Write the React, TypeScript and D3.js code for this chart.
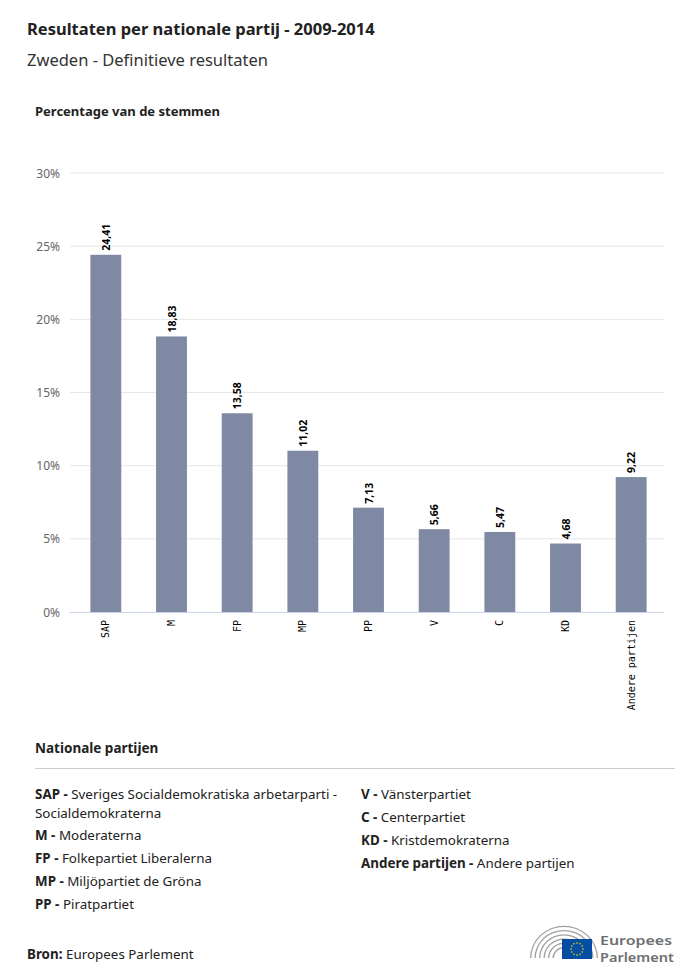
import React, { useEffect, useRef } from 'react';
import * as d3 from 'd3';

const parties = ['SAP', 'M', 'FP', 'MP', 'PP', 'V', 'C', 'KD', 'Andere partijen'];
const shares = [24.41, 18.83, 13.58, 11.02, 7.13, 5.66, 5.47, 4.68, 9.22];
const yTicks = [0, 5, 10, 15, 20, 25, 30];

const legendLeft = [
  ['SAP', 'Sveriges Socialdemokratiska arbetarparti -', 'Socialdemokraterna'],
  ['M', 'Moderaterna'],
  ['FP', 'Folkepartiet Liberalerna'],
  ['MP', 'Miljöpartiet de Gröna'],
  ['PP', 'Piratpartiet'],
];
const legendRight = [
  ['V', 'Vänsterpartiet'],
  ['C', 'Centerpartiet'],
  ['KD', 'Kristdemokraterna'],
  ['Andere partijen', 'Andere partijen'],
];

const FONT = '"Noto Sans", Lato, sans-serif';

export default function App() {
  const svgRef = useRef<SVGSVGElement>(null);

  useEffect(() => {
    if (!svgRef.current) return;
    const root = d3.select(svgRef.current);
    root.selectAll('*').remove();

    const svg = root.attr('width', 700).attr('height', 980).style('font-family', FONT);

    // Titles
    svg.append('text').attr('x', 27).attr('y', 35).attr('font-size', 16.5).attr('font-weight', 700)
      .attr('fill', '#222').text('Resultaten per nationale partij - 2009-2014');
    svg.append('text').attr('x', 27).attr('y', 66).attr('font-size', 16.5)
      .attr('fill', '#333').text('Zweden - Definitieve resultaten');
    svg.append('text').attr('x', 35).attr('y', 116).attr('font-size', 13).attr('font-weight', 700)
      .attr('fill', '#222').text('Percentage van de stemmen');

    // Scales
    const x = d3.scaleBand<string>().domain(parties).range([73, 664]).paddingInner(0.53).paddingOuter(0.265);
    const y = d3.scaleLinear().domain([0, 30]).range([612, 173]);

    // Grid
    const grid = svg.append('g');
    grid.selectAll('line').data(yTicks.slice(1)).enter().append('line')
      .attr('x1', 70).attr('x2', 664)
      .attr('y1', d => y(d)).attr('y2', d => y(d))
      .attr('stroke', '#e6e6e6').attr('stroke-width', 1);

    grid.selectAll('text').data(yTicks).enter().append('text')
      .attr('x', 60).attr('y', d => y(d) + 4.5)
      .attr('text-anchor', 'end').attr('font-size', 12).attr('fill', '#666')
      .text(d => `${d}%`);

    // Bars
    svg.append('g').selectAll('rect').data(shares).enter().append('rect')
      .attr('x', (_, i) => x(parties[i]) || 0)
      .attr('y', d => y(d))
      .attr('width', x.bandwidth())
      .attr('height', d => y(0) - y(d))
      .attr('fill', '#7f89a4');

    // Baseline
    svg.append('line').attr('x1', 70).attr('x2', 664).attr('y1', y(0) + 0.5).attr('y2', y(0) + 0.5)
      .attr('stroke', '#ccd6eb').attr('stroke-width', 1);

    // Value labels
    svg.append('g').selectAll('text').data(shares).enter().append('text')
      .attr('transform', (d, i) => `translate(${(x(parties[i]) || 0) + x.bandwidth() / 2 + 4},${y(d) - 4}) rotate(-90)`)
      .attr('font-size', 10.5).attr('font-weight', 700).attr('fill', '#000')
      .attr('stroke', '#fff').attr('stroke-width', 2).attr('paint-order', 'stroke')
      .text(d => d.toFixed(2).replace('.', ','));

    // Category labels
    svg.append('g').selectAll('text').data(parties).enter().append('text')
      .attr('transform', d => `translate(${(x(d) || 0) + x.bandwidth() / 2 + 3.5},620) rotate(-90)`)
      .attr('text-anchor', 'end').attr('font-size', 10).attr('fill', '#000')
      .style('font-family', '"DejaVu Sans Mono", monospace')
      .text(d => d);

    // Legend
    svg.append('text').attr('x', 35).attr('y', 753).attr('font-size', 13.5).attr('font-weight', 700)
      .attr('fill', '#222').text('Nationale partijen');
    svg.append('line').attr('x1', 35).attr('x2', 675).attr('y1', 768.5).attr('y2', 768.5)
      .attr('stroke', '#ccc');

    const drawLegend = (items: string[][], lx: number, ys: number[]) => {
      let row = 0;
      items.forEach(item => {
        const t = svg.append('text').attr('x', lx).attr('y', ys[row]).attr('font-size', 13.4).attr('fill', '#222');
        t.append('tspan').attr('font-weight', 700).text(`${item[0]} - `);
        t.append('tspan').text(item[1]);
        row++;
        if (item[2]) {
          svg.append('text').attr('x', lx).attr('y', ys[row]).attr('font-size', 13.4).attr('fill', '#222').text(item[2]);
          row++;
        }
      });
    };
    drawLegend(legendLeft, 35, [799, 818, 840, 863, 886, 909]);
    drawLegend(legendRight, 361, [799, 822, 845, 868]);

    // Source
    const src = svg.append('text').attr('x', 27).attr('y', 959).attr('font-size', 13.4).attr('fill', '#222');
    src.append('tspan').attr('font-weight', 700).text('Bron: ');
    src.append('tspan').text('Europees Parlement');

    // Logo
    const logo = svg.append('g');
    const cx = 564, cy = 958;
    [34, 29.5, 25, 20.5, 16, 11.5].forEach(r => {
      const arc = d3.arc()({ innerRadius: r - 1.3, outerRadius: r, startAngle: -Math.PI / 2, endAngle: Math.PI / 2 } as any);
      logo.append('path').attr('d', arc as string).attr('transform', `translate(${cx},${cy}) scale(1,0.95)`).attr('fill', '#a0a0a0');
    });
    logo.append('rect').attr('x', 562).attr('y', 939).attr('width', 30).attr('height', 20).attr('fill', '#034ea2');
    d3.range(12).forEach(k => {
      const a = (k / 12) * Math.PI * 2;
      logo.append('circle').attr('cx', 577 + 6 * Math.cos(a)).attr('cy', 949 + 6 * Math.sin(a)).attr('r', 0.8).attr('fill', '#ffdd00');
    });
    logo.append('text').attr('x', 600).attr('y', 945).attr('font-size', 12.5).attr('font-weight', 600)
      .attr('textLength', 72).attr('lengthAdjust', 'spacingAndGlyphs').attr('fill', '#6d6e70').text('Europees');
    logo.append('text').attr('x', 600).attr('y', 962).attr('font-size', 12.5).attr('font-weight', 600)
      .attr('textLength', 74).attr('lengthAdjust', 'spacingAndGlyphs').attr('fill', '#6d6e70').text('Parlement');
  }, []);

  return (
    <div style={{ position: 'absolute', left: 0, top: 0 }}>
      <svg ref={svgRef}></svg>
    </div>
  );
}
